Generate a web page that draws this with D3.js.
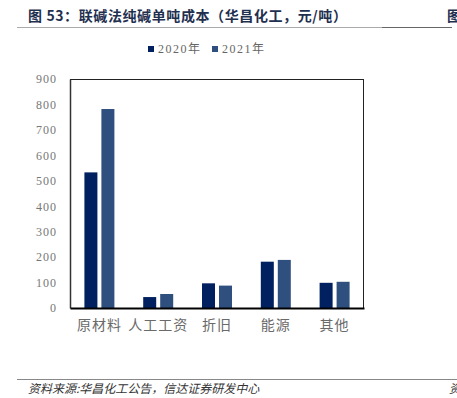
<!DOCTYPE html>
<html>
<head>
<meta charset="utf-8">
<script src="https://cdn.jsdelivr.net/npm/d3@7"></script>
<style>
  body { margin: 0; background: #fff; }
  svg { display: block; }
</style>
</head>
<body>
<div id="chart"></div>
<script>
// 数据
const categories = ["原材料", "人工工资", "折旧", "能源", "其他"];
const seriesNames = ["2020年", "2021年"];
const values2020 = [533, 43, 97, 182, 99];
const values2021 = [782, 55, 88, 189, 103];
const yTicks = [0, 100, 200, 300, 400, 500, 600, 700, 800, 900];

const colors = ["#012060", "#2f4f7f"];
const width = 457, height = 398;
const plot = { left: 70, right: 364, top: 79, bottom: 308 };

const svg = d3.select("#chart").append("svg")
  .attr("width", width).attr("height", height);

// 标题
svg.append("text")
  .attr("x", 28).attr("y", 21)
  .attr("font-family", "'Noto Sans CJK SC', sans-serif")
  .attr("font-size", 14).attr("font-weight", "bold")
  .attr("letter-spacing", 0.6)
  .attr("fill", "#1f2f4f")
  .text("图 53：联碱法纯碱单吨成本（华昌化工，元/吨）");
svg.append("text")
  .attr("x", 447).attr("y", 21)
  .attr("font-family", "'Noto Sans CJK SC', sans-serif")
  .attr("font-size", 14).attr("font-weight", "bold")
  .attr("fill", "#1f2f4f")
  .text("图");
svg.append("line").attr("x1", 17).attr("x2", 382).attr("y1", 27.5).attr("y2", 27.5)
  .attr("stroke", "#aaa").attr("stroke-width", 1);
svg.append("line").attr("x1", 382).attr("x2", 452).attr("y1", 27.5).attr("y2", 27.5)
  .attr("stroke", "#666").attr("stroke-width", 1);

// 比例尺
const x0 = d3.scaleBand().domain(categories)
  .range([plot.left, plot.right]).paddingInner(0.49).paddingOuter(0.245);
const x1 = d3.scaleBand().domain(seriesNames)
  .range([0, x0.bandwidth()]).paddingInner(0.235);
const y = d3.scaleLinear().domain([0, 900]).range([plot.bottom, plot.top]);

const rows = categories.map((c, i) => ({ cat: c, vals: [values2020[i], values2021[i]] }));

// 柱子
svg.append("g").selectAll("g").data(rows).join("g")
  .attr("transform", d => `translate(${x0(d.cat)},0)`)
  .selectAll("rect").data(d => d.vals.map((v, k) => ({ name: seriesNames[k], v, k })))
  .join("rect")
  .attr("x", d => x1(d.name))
  .attr("y", d => y(d.v))
  .attr("width", x1.bandwidth())
  .attr("height", d => y(0) - y(d.v))
  .attr("fill", d => colors[d.k]);

// 边框
svg.append("line").attr("x1", plot.left).attr("x2", plot.right).attr("y1", plot.top + 0.5).attr("y2", plot.top + 0.5)
  .attr("stroke", "#222").attr("stroke-width", 1);
svg.append("line").attr("x1", plot.right - 0.5).attr("x2", plot.right - 0.5).attr("y1", plot.top).attr("y2", plot.bottom)
  .attr("stroke", "#222").attr("stroke-width", 1);

// Y 轴
const yAxis = svg.append("g").attr("transform", `translate(${plot.left},0)`)
  .call(d3.axisLeft(y).tickValues(yTicks).tickSize(0).tickPadding(13));
yAxis.select(".domain").attr("stroke", "#333").attr("stroke-width", 1.5);
yAxis.selectAll("text")
  .attr("font-family", "'Liberation Serif', serif")
  .attr("font-size", 12).attr("letter-spacing", 1)
  .attr("fill", "#777");

// X 轴
const xAxis = svg.append("g").attr("transform", `translate(0,${plot.bottom})`)
  .call(d3.axisBottom(x0).tickSize(0).tickPadding(12));
xAxis.select(".domain").attr("stroke", "#000").attr("stroke-width", 2);
xAxis.selectAll("text")
  .attr("font-family", "'Noto Sans CJK SC', sans-serif")
  .attr("font-size", 14).attr("letter-spacing", 1)
  .attr("fill", "#6a6a6a");

// 图例
const legendX = [148, 212];
const legend = svg.append("g").selectAll("g").data(seriesNames).join("g")
  .attr("transform", (d, i) => `translate(${legendX[i]},46)`);
legend.append("rect").attr("width", 6).attr("height", 6).attr("fill", (d, i) => colors[i]);
legend.append("text").attr("x", 10).attr("y", 7)
  .attr("font-family", "'Liberation Serif', 'Noto Sans CJK SC', serif")
  .attr("font-size", 12).attr("letter-spacing", 1.5)
  .attr("fill", "#666")
  .text(d => d);

// 资料来源
svg.append("line").attr("x1", 17).attr("x2", 457).attr("y1", 379.5).attr("y2", 379.5)
  .attr("stroke", "#888").attr("stroke-width", 1);
svg.append("text")
  .attr("x", 28).attr("y", 393)
  .attr("font-family", "'Noto Sans CJK SC', sans-serif")
  .attr("font-size", 12).attr("font-style", "italic")
  .attr("fill", "#333")
  .text("资料来源:华昌化工公告，信达证券研发中心");
svg.append("text")
  .attr("x", 449).attr("y", 393)
  .attr("font-family", "'Noto Sans CJK SC', sans-serif")
  .attr("font-size", 12).attr("font-style", "italic")
  .attr("fill", "#333")
  .text("资");
</script>
</body>
</html>
